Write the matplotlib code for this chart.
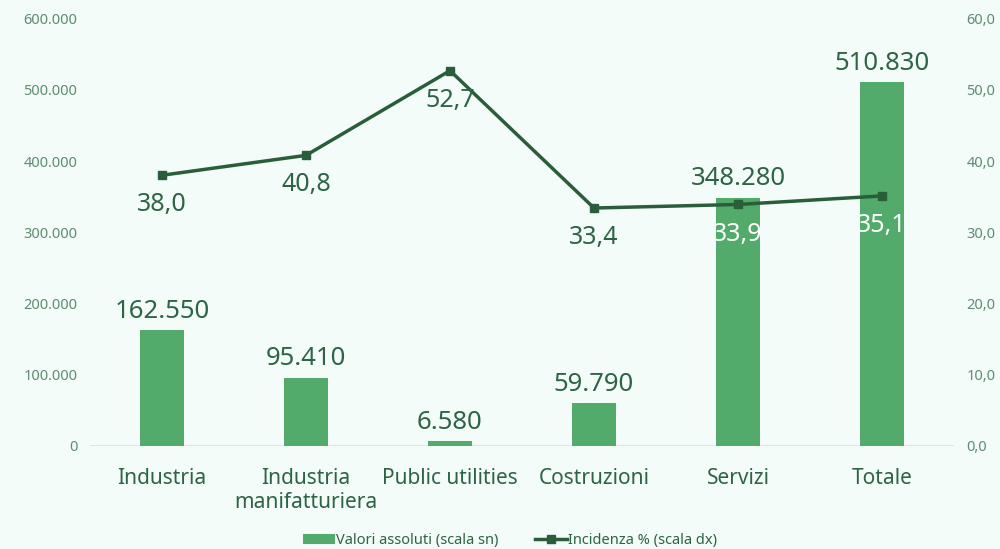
import matplotlib.pyplot as plt
import numpy as np

# Data
categorie = ['Industria', 'Industria\nmanifatturiera', 'Public utilities',
             'Costruzioni', 'Servizi', 'Totale']
valori = [162550, 95410, 6580, 59790, 348280, 510830]
incidenza = [38.0, 40.8, 52.7, 33.4, 33.9, 35.1]
# colour of the line labels (last two sit on the bars)
col_label_linea = ['#2d6446', '#2d6446', '#2d6446', '#2d6446', 'white', 'white']

bg = '#f3fcf8'
bar_col = '#52ab6a'
line_col = '#2a5e3a'
txt_col = '#2d6446'
tick_col = '#5e8c72'

plt.rcParams['font.family'] = ['Noto Sans', 'DejaVu Sans']

fig = plt.figure(figsize=(10, 5.49), dpi=100, facecolor=bg)
ax = fig.add_axes([0.09, 0.188, 0.864, 0.778], facecolor=bg)
ax2 = ax.twinx()

x = np.arange(len(categorie))
bars = ax.bar(x, valori, width=0.31, color=bar_col, label='Valori assoluti (scala sn)', zorder=2)
ax.set_ylim(0, 600000)
ax.set_xlim(-0.5, len(categorie) - 0.5)
ax.set_yticks(np.arange(0, 600001, 100000))
ax.set_yticklabels([f'{int(v):,}'.replace(',', '.') for v in np.arange(0, 600001, 100000)])
ax.set_xticks(x)
ax.set_xticklabels(categorie, fontsize=15, color=txt_col, linespacing=1.2)

for b, v in zip(bars, valori):
    ax.text(b.get_x() + b.get_width() / 2, v + 9000, f'{v:,}'.replace(',', '.'),
            ha='center', va='bottom', fontsize=18.5, color=txt_col)

ln, = ax2.plot(x, incidenza, color=line_col, lw=2.5, marker='s', markersize=6,
               label='Incidenza % (scala dx)', zorder=3)
ax2.set_ylim(0, 60)
ax2.set_yticks(np.arange(0, 61, 10))
ax2.set_yticklabels([f'{v:.1f}'.replace('.', ',') for v in np.arange(0, 61, 10)])

for xi, v, c in zip(x, incidenza, col_label_linea):
    ax2.text(xi, v - 2.4, f'{v:.1f}'.replace('.', ','), ha='center', va='top',
             fontsize=18, color=c)

for a in (ax, ax2):
    for s in a.spines.values():
        s.set_visible(False)
    a.tick_params(length=0)
ax.tick_params(axis='y', labelsize=10.5, labelcolor=tick_col, pad=9)
ax2.tick_params(axis='y', labelsize=10.5, labelcolor=tick_col, pad=9)
ax.tick_params(axis='x', pad=16)
ax.axhline(0, color='#d9e3de', lw=1.2, zorder=1)

fig.legend(handles=[bars, ln], loc='lower center', bbox_to_anchor=(0.51, -0.022), ncol=2,
           frameon=False, fontsize=10.5, labelcolor=txt_col, handlelength=2.2,
           handletextpad=0.1, columnspacing=2.5)

fig.savefig('out.png', dpi=100, facecolor=bg)
